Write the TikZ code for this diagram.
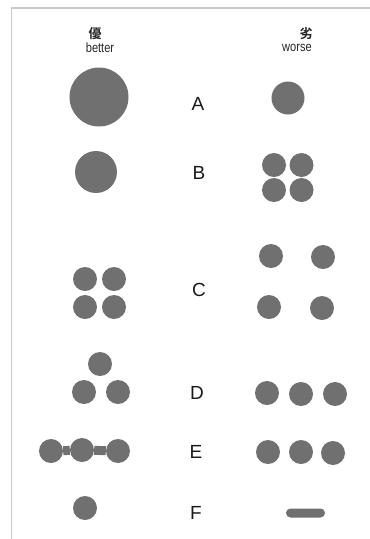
\documentclass[tikz,border=0pt]{standalone}
\usepackage{fontspec}
\setmainfont{Liberation Sans}
\newfontfamily\cjk{Noto Sans CJK JP}[BoldFont={* Bold}]
\newfontfamily\narrow{Liberation Sans}[FakeStretch=0.82]
\usetikzlibrary{positioning}
\definecolor{dotgray}{RGB}{112,112,112}
\definecolor{framegray}{RGB}{200,200,200}

\begin{document}
\begin{tikzpicture}[
    x=1pt, y=-1pt,
    dot/.style={circle, fill=dotgray, inner sep=0pt, minimum size=24pt},
    bigdot/.style={dot, minimum size=#1},
    letter/.style={font=\fontsize{19}{19}\selectfont, text=black!90, inner sep=0pt},
    head/.style={font=\cjk\bfseries\fontsize{13}{13}\selectfont, text=black!85, inner sep=0pt},
    sub/.style={font=\narrow\fontsize{13.5}{13.5}\selectfont, text=black!85, inner sep=0pt},
]
\useasboundingbox (0,0) rectangle (370,539);
\draw[framegray, line width=1.2pt] (11.5,539) -- (11.5,8) -- (370,8);

% column heads
\node[head] (good) at (95,34) {優};
\node[sub]  (bet)  at (100,48) {better};
\node[head] (bad)  at (306,34) {劣};
\node[sub]  (wor)  at (297,48) {worse};

% A
\node[letter] (la) at (198,104) {A};
\node[bigdot=59pt] (a1) at (99,97) {};
\node[bigdot=33pt] (a2) at (288,98) {};

% B
\node[letter] (lb) at (199,173) {B};
\node[bigdot=42pt] (b1) at (96,172) {};
\node[dot] (b2) at (274,165) {};
\node[dot] (b3) at (301.5,165) {};
\node[dot] (b4) at (274,190) {};
\node[dot] (b5) at (301.5,190) {};

% C
\node[letter] (lc) at (199,290) {C};
\node[dot] (c1) at (85,279) {};
\node[dot] (c2) at (114,279) {};
\node[dot] (c3) at (85,307) {};
\node[dot] (c4) at (114,307) {};
\node[dot] (c5) at (271,256) {};
\node[dot] (c6) at (323,257) {};
\node[dot] (c7) at (269,307) {};
\node[dot] (c8) at (322,308) {};

% D
\node[letter] (ld) at (197,393) {D};
\node[dot] (d1) at (100,364) {};
\node[dot] (d2) at (84,392) {};
\node[dot] (d3) at (118,392) {};
\node[dot] (d4) at (267,393) {};
\node[dot] (d5) at (301,394) {};
\node[dot] (d6) at (335,394) {};

% E
\node[letter] (le) at (196,452) {E};
\node[dot] (e1) at (51,451) {};
\node[dot] (e2) at (82,450) {};
\node[dot] (e3) at (118,451) {};
\draw[dotgray, line width=9pt] (e1) -- (e2) -- (e3);
\node[dot] (e4) at (268,452) {};
\node[dot] (e5) at (301,452) {};
\node[dot] (e6) at (333,453) {};

% F
\node[letter] (lf) at (196,513) {F};
\node[dot] (f1) at (85,508) {};
\node[rectangle, rounded corners=4.5pt, fill=dotgray, inner sep=0pt,
      minimum width=39pt, minimum height=9pt] (f2) at (305.5,513) {};
\end{tikzpicture}
\end{document}
